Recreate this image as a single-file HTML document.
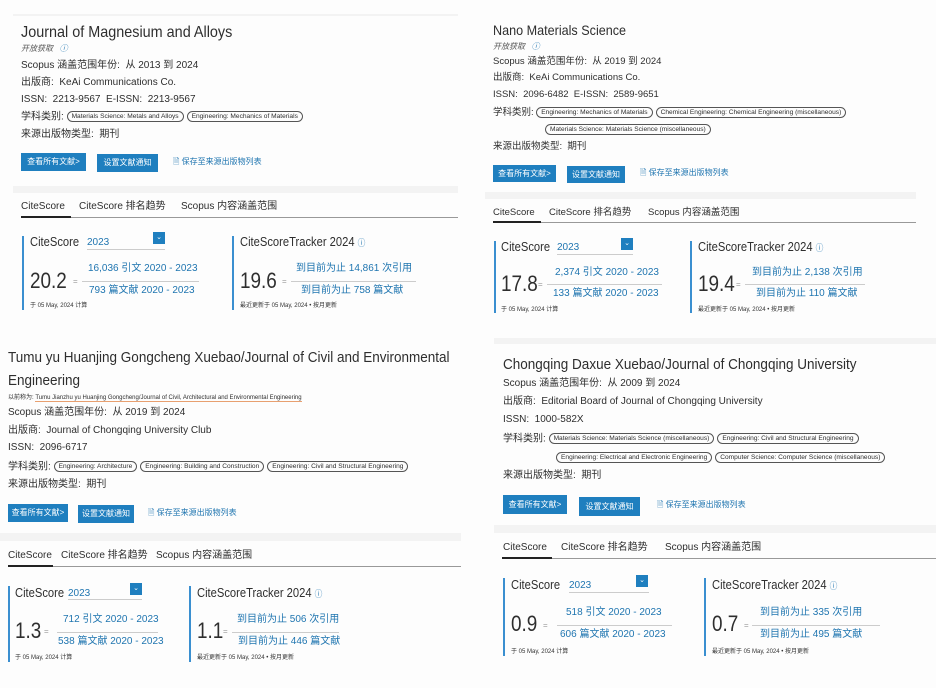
<!DOCTYPE html>
<html><head><meta charset="utf-8">
<style>
body{margin:0;width:936px;height:688px;background:#fdfdfd;position:relative;overflow:hidden;font-family:"Liberation Sans","Noto Sans CJK SC",sans-serif;color:#2e2e2e}
.t{position:absolute;white-space:nowrap;line-height:1}
.sx{transform:scaleX(0.9);transform-origin:0 0}
.sc{transform:scaleX(0.86);transform-origin:0 0}
.b{color:#1f75b0}
.g{position:absolute;background:#f3f3f3}
.btn{position:absolute;background:#1f7fbf;color:#fff;font-size:8px;line-height:1;display:flex;align-items:center;justify-content:center}
.chip{display:inline-block;border:1px solid #555;border-radius:7px;font-size:6.6px;padding:1px 4px;margin-right:3px;line-height:1.1;vertical-align:middle}
.bar{position:absolute;width:2px;background:#3a8fd0}
.ln{position:absolute;height:1px;background:#ccc}
.blk{position:absolute;height:2px;background:#222}
.dd{position:absolute;width:12px;height:12px;background:#1f7fbf;color:#fff;font-size:7px;text-align:center;line-height:12px}
.foot{font-size:6px;color:#333}
.big{font-size:22px;margin-top:-2px}
.lab{font-size:13px;margin-top:-1px}
</style></head><body>

<!-- Panel 1 -->
<div class="g" style="left:13px;top:14px;width:445px;height:2px"></div>
<div class="t sx" style="left:21px;top:25px;font-size:16px">Journal of Magnesium and Alloys</div>
<div class="t" style="left:21px;top:45px;font-size:8px;font-style:italic;color:#555">开放获取 &nbsp;&nbsp;<span class="b">ⓘ</span></div>
<div class="t" style="left:21px;top:61px;font-size:10px">Scopus 涵盖范围年份: &nbsp;从 2013 到 2024</div>
<div class="t" style="left:21px;top:78px;font-size:10px">出版商: &nbsp;KeAi Communications Co.</div>
<div class="t" style="left:21px;top:95px;font-size:10px">ISSN: &nbsp;2213-9567 &nbsp;E-ISSN: &nbsp;2213-9567</div>
<div class="t" style="left:21px;top:111px;font-size:10px">学科类别: <span class="chip">Materials Science: Metals and Alloys</span><span class="chip">Engineering: Mechanics of Materials</span></div>
<div class="t" style="left:21px;top:130px;font-size:10px">来源出版物类型: &nbsp;期刊</div>
<div class="btn" style="left:21px;top:153px;width:65px;height:18px">查看所有文献&gt;</div>
<div class="btn" style="left:97px;top:154px;width:61px;height:18px">设置文献通知</div>
<div class="t b" style="left:173px;top:158px;font-size:8px">🗎 保存至来源出版物列表</div>
<div class="g" style="left:13px;top:186px;width:445px;height:7px"></div>
<div class="t" style="left:21px;top:202px;font-size:10px">CiteScore</div>
<div class="t" style="left:79px;top:202px;font-size:10px">CiteScore 排名趋势</div>
<div class="t" style="left:181px;top:202px;font-size:10px">Scopus 内容涵盖范围</div>
<div class="ln" style="left:21px;top:217px;width:437px;background:#999"></div>
<div class="blk" style="left:21px;top:216px;width:50px"></div>
<div class="bar" style="left:22px;top:236px;height:74px"></div>
<div class="t sc lab" style="left:30px;top:236px">CiteScore</div>
<div class="t b" style="left:87px;top:238px;font-size:10px">2023</div>
<div class="ln" style="left:87px;top:249px;width:78px"></div>
<div class="dd" style="left:153px;top:232px">⌄</div>
<div class="t big sc" style="left:30px;top:272px">20.2</div>
<div class="t" style="left:73px;top:278px;font-size:8px;color:#999">=</div>
<div class="t b" style="left:88px;top:264px;font-size:10px">16,036 引文 2020 - 2023</div>
<div class="ln" style="left:82px;top:281px;width:117px"></div>
<div class="t b" style="left:89px;top:286px;font-size:10px">793 篇文献 2020 - 2023</div>
<div class="t foot" style="left:30px;top:303px">于 05 May, 2024 计算</div>
<div class="bar" style="left:232px;top:236px;height:74px"></div>
<div class="t sc lab" style="left:240px;top:236px">CiteScoreTracker 2024 <span class="b" style="font-size:9px">ⓘ</span></div>
<div class="t big sc" style="left:240px;top:272px">19.6</div>
<div class="t" style="left:282px;top:278px;font-size:8px;color:#999">=</div>
<div class="t b" style="left:296px;top:264px;font-size:10px">到目前为止 14,861 次引用</div>
<div class="ln" style="left:291px;top:281px;width:125px"></div>
<div class="t b" style="left:301px;top:286px;font-size:10px">到目前为止 758 篇文献</div>
<div class="t foot" style="left:240px;top:303px">最近更新于 05 May, 2024 • 按月更新</div>

<!-- Panel 2 -->
<div class="t sx" style="left:493px;top:23px;font-size:14px">Nano Materials Science</div>
<div class="t" style="left:493px;top:43px;font-size:8px;font-style:italic;color:#555">开放获取 &nbsp;&nbsp;<span class="b">ⓘ</span></div>
<div class="t" style="left:493px;top:57px;font-size:9.5px">Scopus 涵盖范围年份: &nbsp;从 2019 到 2024</div>
<div class="t" style="left:493px;top:73px;font-size:9.5px">出版商: &nbsp;KeAi Communications Co.</div>
<div class="t" style="left:493px;top:90px;font-size:9.5px">ISSN: &nbsp;2096-6482 &nbsp;E-ISSN: &nbsp;2589-9651</div>
<div class="t" style="left:493px;top:107px;font-size:9.5px">学科类别: <span class="chip">Engineering: Mechanics of Materials</span><span class="chip">Chemical Engineering: Chemical Engineering (miscellaneous)</span></div>
<div class="t" style="left:545px;top:124px;font-size:9.5px"><span class="chip">Materials Science: Materials Science (miscellaneous)</span></div>
<div class="t" style="left:493px;top:142px;font-size:9.5px">来源出版物类型: &nbsp;期刊</div>
<div class="btn" style="left:493px;top:165px;width:63px;height:17px">查看所有文献&gt;</div>
<div class="btn" style="left:567px;top:166px;width:58px;height:17px">设置文献通知</div>
<div class="t b" style="left:640px;top:169px;font-size:8px">🗎 保存至来源出版物列表</div>
<div class="g" style="left:485px;top:192px;width:431px;height:7px"></div>
<div class="t" style="left:493px;top:208px;font-size:9.5px">CiteScore</div>
<div class="t" style="left:549px;top:208px;font-size:9.5px">CiteScore 排名趋势</div>
<div class="t" style="left:648px;top:208px;font-size:9.5px">Scopus 内容涵盖范围</div>
<div class="ln" style="left:493px;top:222px;width:423px;background:#999"></div>
<div class="blk" style="left:493px;top:221px;width:48px"></div>
<div class="bar" style="left:494px;top:241px;height:72px"></div>
<div class="t sc lab" style="left:501px;top:241px">CiteScore</div>
<div class="t b" style="left:557px;top:243px;font-size:10px">2023</div>
<div class="ln" style="left:557px;top:254px;width:76px"></div>
<div class="dd" style="left:621px;top:238px">⌄</div>
<div class="t big sc" style="left:501px;top:275px">17.8</div>
<div class="t" style="left:538px;top:281px;font-size:8px;color:#999">=</div>
<div class="t b" style="left:555px;top:268px;font-size:10px">2,374 引文 2020 - 2023</div>
<div class="ln" style="left:547px;top:284px;width:115px"></div>
<div class="t b" style="left:553px;top:289px;font-size:10px">133 篇文献 2020 - 2023</div>
<div class="t foot" style="left:501px;top:307px">于 05 May, 2024 计算</div>
<div class="bar" style="left:690px;top:241px;height:72px"></div>
<div class="t sc lab" style="left:698px;top:241px">CiteScoreTracker 2024 <span class="b" style="font-size:9px">ⓘ</span></div>
<div class="t big sc" style="left:698px;top:275px">19.4</div>
<div class="t" style="left:736px;top:281px;font-size:8px;color:#999">=</div>
<div class="t b" style="left:752px;top:268px;font-size:10px">到目前为止 2,138 次引用</div>
<div class="ln" style="left:745px;top:284px;width:120px"></div>
<div class="t b" style="left:756px;top:289px;font-size:10px">到目前为止 110 篇文献</div>
<div class="t foot" style="left:698px;top:307px">最近更新于 05 May, 2024 • 按月更新</div>

<!-- Panel 3 -->
<div class="t sx" style="left:8px;top:350px;font-size:15px">Tumu yu Huanjing Gongcheng Xuebao/Journal of Civil and Environmental</div>
<div class="t sx" style="left:8px;top:373px;font-size:15px">Engineering</div>
<div class="t" style="left:8px;top:395px;font-size:6px">以前称为: <span style="border-bottom:1px solid #e8a070">Tumu Jianzhu yu Huanjing Gongcheng/Journal of Civil, Architectural and Environmental Engineering</span></div>
<div class="t" style="left:8px;top:408px;font-size:10px">Scopus 涵盖范围年份: &nbsp;从 2019 到 2024</div>
<div class="t" style="left:8px;top:426px;font-size:10px">出版商: &nbsp;Journal of Chongqing University Club</div>
<div class="t" style="left:8px;top:443px;font-size:10px">ISSN: &nbsp;2096-6717</div>
<div class="t" style="left:8px;top:461px;font-size:10px">学科类别: <span class="chip">Engineering: Architecture</span><span class="chip">Engineering: Building and Construction</span><span class="chip">Engineering: Civil and Structural Engineering</span></div>
<div class="t" style="left:8px;top:480px;font-size:10px">来源出版物类型: &nbsp;期刊</div>
<div class="btn" style="left:8px;top:504px;width:60px;height:18px">查看所有文献&gt;</div>
<div class="btn" style="left:78px;top:505px;width:56px;height:18px">设置文献通知</div>
<div class="t b" style="left:148px;top:509px;font-size:8px">🗎 保存至来源出版物列表</div>
<div class="g" style="left:0px;top:533px;width:461px;height:8px"></div>
<div class="t" style="left:8px;top:551px;font-size:10px">CiteScore</div>
<div class="t" style="left:61px;top:551px;font-size:10px">CiteScore 排名趋势</div>
<div class="t" style="left:156px;top:551px;font-size:10px">Scopus 内容涵盖范围</div>
<div class="ln" style="left:8px;top:566px;width:453px;background:#999"></div>
<div class="blk" style="left:8px;top:565px;width:45px"></div>
<div class="bar" style="left:8px;top:586px;height:76px"></div>
<div class="t sc lab" style="left:15px;top:587px">CiteScore</div>
<div class="t b" style="left:68px;top:589px;font-size:10px">2023</div>
<div class="ln" style="left:68px;top:599px;width:74px"></div>
<div class="dd" style="left:130px;top:583px">⌄</div>
<div class="t big sc" style="left:15px;top:622px">1.3</div>
<div class="t" style="left:44px;top:628px;font-size:8px;color:#999">=</div>
<div class="t b" style="left:63px;top:615px;font-size:10px">712 引文 2020 - 2023</div>
<div class="ln" style="left:57px;top:632px;width:101px"></div>
<div class="t b" style="left:58px;top:637px;font-size:10px">538 篇文献 2020 - 2023</div>
<div class="t foot" style="left:15px;top:655px">于 05 May, 2024 计算</div>
<div class="bar" style="left:189px;top:586px;height:76px"></div>
<div class="t sc lab" style="left:197px;top:587px">CiteScoreTracker 2024 <span class="b" style="font-size:9px">ⓘ</span></div>
<div class="t big sc" style="left:197px;top:622px">1.1</div>
<div class="t" style="left:223px;top:628px;font-size:8px;color:#999">=</div>
<div class="t b" style="left:237px;top:615px;font-size:10px">到目前为止 506 次引用</div>
<div class="ln" style="left:232px;top:632px;width:107px"></div>
<div class="t b" style="left:238px;top:637px;font-size:10px">到目前为止 446 篇文献</div>
<div class="t foot" style="left:197px;top:655px">最近更新于 05 May, 2024 • 按月更新</div>

<!-- Panel 4 -->
<div class="g" style="left:494px;top:338px;width:442px;height:6px"></div>
<div class="t sx" style="left:503px;top:357px;font-size:15px">Chongqing Daxue Xuebao/Journal of Chongqing University</div>
<div class="t" style="left:503px;top:379px;font-size:10px">Scopus 涵盖范围年份: &nbsp;从 2009 到 2024</div>
<div class="t" style="left:503px;top:397px;font-size:10px">出版商: &nbsp;Editorial Board of Journal of Chongqing University</div>
<div class="t" style="left:503px;top:415px;font-size:10px">ISSN: &nbsp;1000-582X</div>
<div class="t" style="left:503px;top:433px;font-size:10px">学科类别: <span class="chip">Materials Science: Materials Science (miscellaneous)</span><span class="chip">Engineering: Civil and Structural Engineering</span></div>
<div class="t" style="left:556px;top:452px;font-size:10px"><span class="chip">Engineering: Electrical and Electronic Engineering</span><span class="chip">Computer Science: Computer Science (miscellaneous)</span></div>
<div class="t" style="left:503px;top:471px;font-size:10px">来源出版物类型: &nbsp;期刊</div>
<div class="btn" style="left:503px;top:495px;width:64px;height:19px">查看所有文献&gt;</div>
<div class="btn" style="left:579px;top:497px;width:61px;height:19px">设置文献通知</div>
<div class="t b" style="left:657px;top:501px;font-size:8px">🗎 保存至来源出版物列表</div>
<div class="g" style="left:494px;top:525px;width:442px;height:8px"></div>
<div class="t" style="left:503px;top:543px;font-size:10px">CiteScore</div>
<div class="t" style="left:561px;top:543px;font-size:10px">CiteScore 排名趋势</div>
<div class="t" style="left:665px;top:543px;font-size:10px">Scopus 内容涵盖范围</div>
<div class="ln" style="left:502px;top:558px;width:434px;background:#999"></div>
<div class="blk" style="left:502px;top:557px;width:50px"></div>
<div class="bar" style="left:503px;top:578px;height:78px"></div>
<div class="t sc lab" style="left:511px;top:579px">CiteScore</div>
<div class="t b" style="left:569px;top:581px;font-size:10px">2023</div>
<div class="ln" style="left:569px;top:592px;width:80px"></div>
<div class="dd" style="left:636px;top:575px">⌄</div>
<div class="t big sc" style="left:511px;top:615px">0.9</div>
<div class="t" style="left:543px;top:622px;font-size:8px;color:#999">=</div>
<div class="t b" style="left:566px;top:608px;font-size:10px">518 引文 2020 - 2023</div>
<div class="ln" style="left:557px;top:625px;width:115px"></div>
<div class="t b" style="left:560px;top:630px;font-size:10px">606 篇文献 2020 - 2023</div>
<div class="t foot" style="left:511px;top:649px">于 05 May, 2024 计算</div>
<div class="bar" style="left:704px;top:578px;height:78px"></div>
<div class="t sc lab" style="left:712px;top:579px">CiteScoreTracker 2024 <span class="b" style="font-size:9px">ⓘ</span></div>
<div class="t big sc" style="left:712px;top:615px">0.7</div>
<div class="t" style="left:744px;top:622px;font-size:8px;color:#999">=</div>
<div class="t b" style="left:760px;top:608px;font-size:10px">到目前为止 335 次引用</div>
<div class="ln" style="left:752px;top:625px;width:128px"></div>
<div class="t b" style="left:760px;top:630px;font-size:10px">到目前为止 495 篇文献</div>
<div class="t foot" style="left:712px;top:649px">最近更新于 05 May, 2024 • 按月更新</div>
</body></html>
